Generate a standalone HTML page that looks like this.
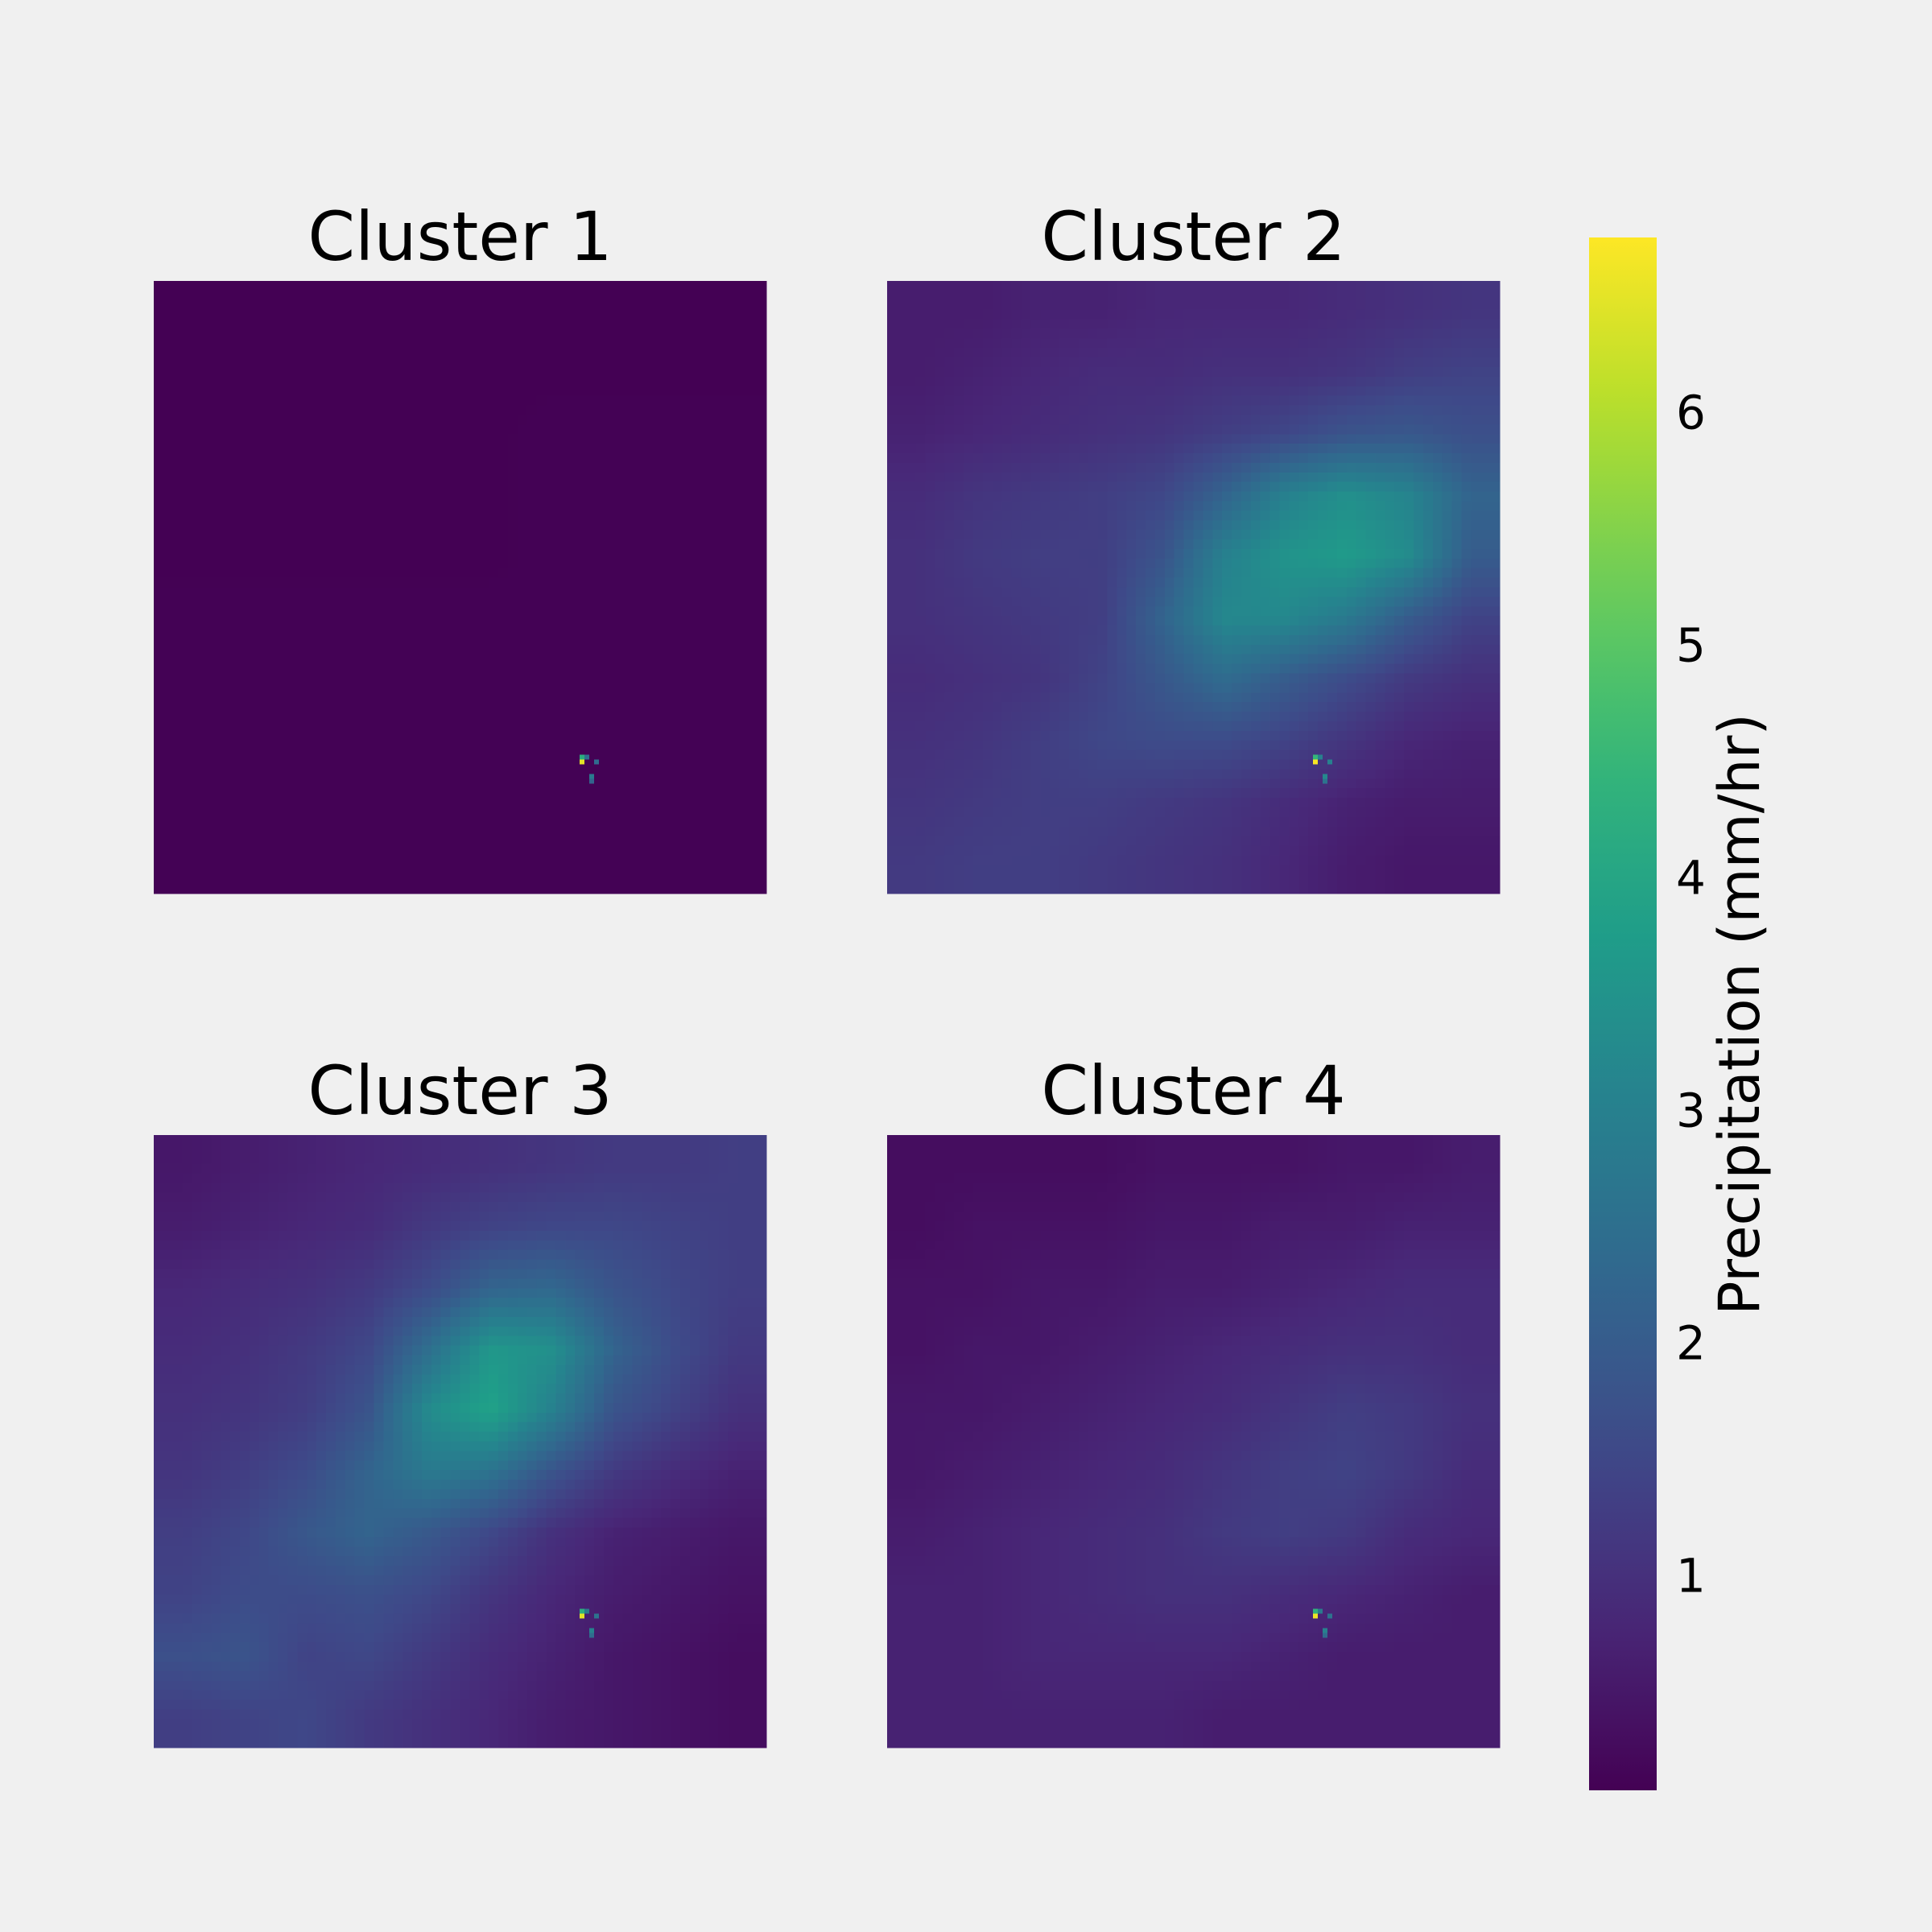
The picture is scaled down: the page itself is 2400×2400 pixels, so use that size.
<!DOCTYPE html>
<html><head><meta charset="utf-8"><style>
html,body{margin:0;padding:0;background:#f0f0f0;}
svg{display:block;}
text{font-family:"DejaVu Sans","Liberation Sans",sans-serif;fill:#000;}
</style></head><body>
<svg id="fig" width="2400" height="2400" viewBox="0 0 2400 2400" xmlns="http://www.w3.org/2000/svg" shape-rendering="crispEdges">
<rect width="2400" height="2400" fill="#f0f0f0"/>
<defs>
<linearGradient id="cbgrad" x1="0" y1="1" x2="0" y2="0"></linearGradient>
</defs>
<g id="panels"></g>
<g id="colorbar"></g>
</svg>
<script>
const titles = ["Cluster 1","Cluster 2","Cluster 3","Cluster 4"];
const vmin = 0.074, vmax = 6.75;
const cbTicks = [1,2,3,4,5,6];
const cbLabel = "Precipitation (mm/hr)";
const grid1 = [
[0.08,0.08,0.08,0.08,0.08,0.08,0.08,0.08,0.08,0.08],
[0.08,0.08,0.08,0.08,0.08,0.08,0.08,0.08,0.08,0.08],
[0.08,0.08,0.08,0.08,0.08,0.08,0.09,0.09,0.09,0.09],
[0.08,0.08,0.08,0.08,0.08,0.08,0.09,0.09,0.09,0.09],
[0.08,0.08,0.08,0.08,0.08,0.08,0.09,0.09,0.09,0.09],
[0.09,0.09,0.09,0.09,0.09,0.09,0.09,0.09,0.09,0.09],
[0.09,0.09,0.09,0.09,0.09,0.09,0.09,0.10,0.09,0.09],
[0.10,0.10,0.10,0.10,0.10,0.10,0.10,0.10,0.09,0.09],
[0.10,0.10,0.10,0.10,0.10,0.10,0.10,0.09,0.09,0.09],
[0.10,0.10,0.10,0.10,0.10,0.10,0.09,0.09,0.09,0.09]];
const grid2 = [
[0.6,0.6,0.7,0.7,0.8,0.8,0.8,0.9,1.0,1.1],
[0.6,0.7,0.8,0.9,0.9,1.0,1.0,1.1,1.3,1.4],
[0.7,0.8,0.9,1.0,1.1,1.3,1.5,1.8,1.9,1.7],
[0.9,1.1,1.2,1.3,1.5,2.2,3.0,3.4,3.1,2.2],
[1.0,1.2,1.3,1.3,1.8,3.0,3.5,3.7,3.3,2.0],
[1.0,1.1,1.2,1.3,2.2,3.2,3.2,2.8,2.0,1.4],
[0.9,1.0,1.1,1.4,1.9,2.4,2.0,1.6,1.2,1.0],
[1.0,1.1,1.3,1.5,1.6,1.6,1.4,1.1,0.8,0.7],
[1.1,1.2,1.3,1.3,1.2,1.1,0.9,0.7,0.6,0.6],
[1.2,1.3,1.3,1.2,1.1,1.0,0.8,0.6,0.5,0.5]];
const grid3 = [
[0.5,0.6,0.7,0.8,0.9,1.0,1.1,1.2,1.2,1.3],
[0.6,0.7,0.8,0.9,1.2,1.4,1.5,1.5,1.4,1.3],
[0.8,0.9,1.0,1.2,1.6,2.2,2.3,1.8,1.5,1.3],
[0.9,1.0,1.2,1.5,2.5,3.6,3.4,2.2,1.6,1.2],
[1.0,1.1,1.3,1.8,3.3,3.9,3.0,1.8,1.4,1.0],
[1.1,1.3,1.6,2.2,2.8,2.6,1.8,1.2,0.9,0.7],
[1.3,1.5,1.9,2.2,1.9,1.5,1.0,0.7,0.6,0.5],
[1.4,1.6,1.6,1.7,1.5,1.1,0.8,0.6,0.5,0.4],
[1.7,1.8,1.4,1.5,1.2,0.9,0.7,0.5,0.4,0.3],
[1.3,1.4,1.5,1.2,1.0,0.8,0.6,0.5,0.4,0.3]];
const grid4 = [
[0.3,0.3,0.3,0.3,0.4,0.4,0.4,0.5,0.5,0.6],
[0.3,0.4,0.4,0.4,0.5,0.5,0.6,0.6,0.7,0.7],
[0.4,0.4,0.5,0.5,0.6,0.6,0.7,0.8,0.9,0.9],
[0.4,0.5,0.5,0.6,0.7,0.8,0.9,1.0,1.0,0.9],
[0.5,0.5,0.6,0.7,0.8,0.9,1.1,1.3,1.2,1.0],
[0.5,0.6,0.7,0.8,0.9,1.1,1.3,1.4,1.2,0.9],
[0.6,0.7,0.8,0.9,1.0,1.2,1.3,1.2,0.9,0.8],
[0.7,0.7,0.8,0.9,1.0,1.0,0.9,0.8,0.7,0.6],
[0.7,0.7,0.8,0.8,0.8,0.8,0.7,0.6,0.6,0.6],
[0.7,0.7,0.7,0.7,0.7,0.6,0.6,0.6,0.6,0.6]];
const grids = [grid1,grid2,grid3,grid4];
const hotCols = [89,89,90,92,91,91];
const hotRows = [100,99,99,100,103,104];
const hotVals1 = [6.5,4.2,2.5,2.4,2.8,2.2];
const hotVals2 = [6.7,4.5,3.0,3.0,3.2,2.6];
const hotVals3 = [6.5,4.3,2.8,2.6,3.0,2.4];
const hotVals4 = [6.6,4.4,2.8,2.6,3.0,2.4];
const hotVals = [hotVals1,hotVals2,hotVals3,hotVals4];

const VIR=[[68,1,84],[72,40,120],[62,74,137],[49,104,142],[38,130,142],[31,158,137],[53,183,121],[109,205,89],[180,222,44],[253,231,37]];
function viridis(t){t=Math.max(0,Math.min(1,t));const p=t*9,i=Math.min(8,Math.floor(p)),f=p-i;const a=VIR[i],b=VIR[i+1];
return 'rgb('+a.map((v,k)=>Math.round(v+(b[k]-v)*f)).join(',')+')';}
function cval(v){return viridis((v-vmin)/(vmax-vmin));}
function sample(g,u,v){ // u,v in grid-cell units, bilinear between centers
  const n=g.length;
  let x=Math.max(0,Math.min(n-1,u-0.5)), y=Math.max(0,Math.min(n-1,v-0.5));
  const x0=Math.min(n-2,Math.floor(x)), y0=Math.min(n-2,Math.floor(y));
  const fx=x-x0, fy=y-y0;
  const a=g[y0][x0],b=g[y0][x0+1],c=g[y0+1][x0],d=g[y0+1][x0+1];
  return (a*(1-fx)+b*fx)*(1-fy)+(c*(1-fx)+d*fx)*fy;
}
const NS="http://www.w3.org/2000/svg";
function mk(tag,attrs,parent){const e=document.createElementNS(NS,tag);for(const k in attrs)e.setAttribute(k,attrs[k]);parent.appendChild(e);return e;}
const px=[191,1102], py=[349,1410], S=761, SUB=64;
const panels=document.getElementById('panels');
grids.forEach((g,pi)=>{
  const x0=px[pi%2], y0=py[Math.floor(pi/2)];
  const grp=mk('g',{},panels);
  
  
  const n=g.length, ss=S/SUB;
  for(let r=0;r<SUB;r++)for(let c=0;c<SUB;c++){
    const v=sample(g,(c+0.5)/SUB*n,(r+0.5)/SUB*n);
    const rc=mk('rect',{x:(x0+c*ss).toFixed(2),y:(y0+r*ss).toFixed(2),width:(ss+0.6).toFixed(2),height:(ss+0.6).toFixed(2),fill:cval(v)},grp);
    
    
  }
  const hs=S/128;
  hotCols.forEach((c,k)=>{
    const h=mk('rect',{x:x0+c*hs,y:y0+hotRows[k]*hs,width:hs,height:hs,fill:cval(hotVals[pi][k])},grp);
    
    
  });
  const t=mk('text',{x:x0+S/2,y:y0-26,'text-anchor':'middle','font-size':84},panels);
  t.textContent=titles[pi];
  
  
});
const grad=document.getElementById('cbgrad');
for(let i=0;i<=20;i++){mk('stop',{offset:(i/20),'stop-color':viridis(i/20)},grad);}
const cb=document.getElementById('colorbar');
const cbx=1974,cbw=84,cbTop=295,cbBot=2224;
const r=mk('rect',{x:cbx,y:cbTop,width:cbw,height:cbBot-cbTop,fill:'url(#cbgrad)'},cb);


function cy(v){return cbBot-(v-vmin)/(vmax-vmin)*(cbBot-cbTop);}
cbTicks.forEach(v=>{
  const t=mk('text',{x:2082,y:cy(v)+21,'font-size':58},cb);
  t.textContent=String(v);
  
  
});
const lab=mk('text',{x:0,y:0,'text-anchor':'middle','font-size':70,transform:'translate(2185,1260) rotate(-90)'},cb);
lab.textContent=cbLabel;


</script>
</body></html>
